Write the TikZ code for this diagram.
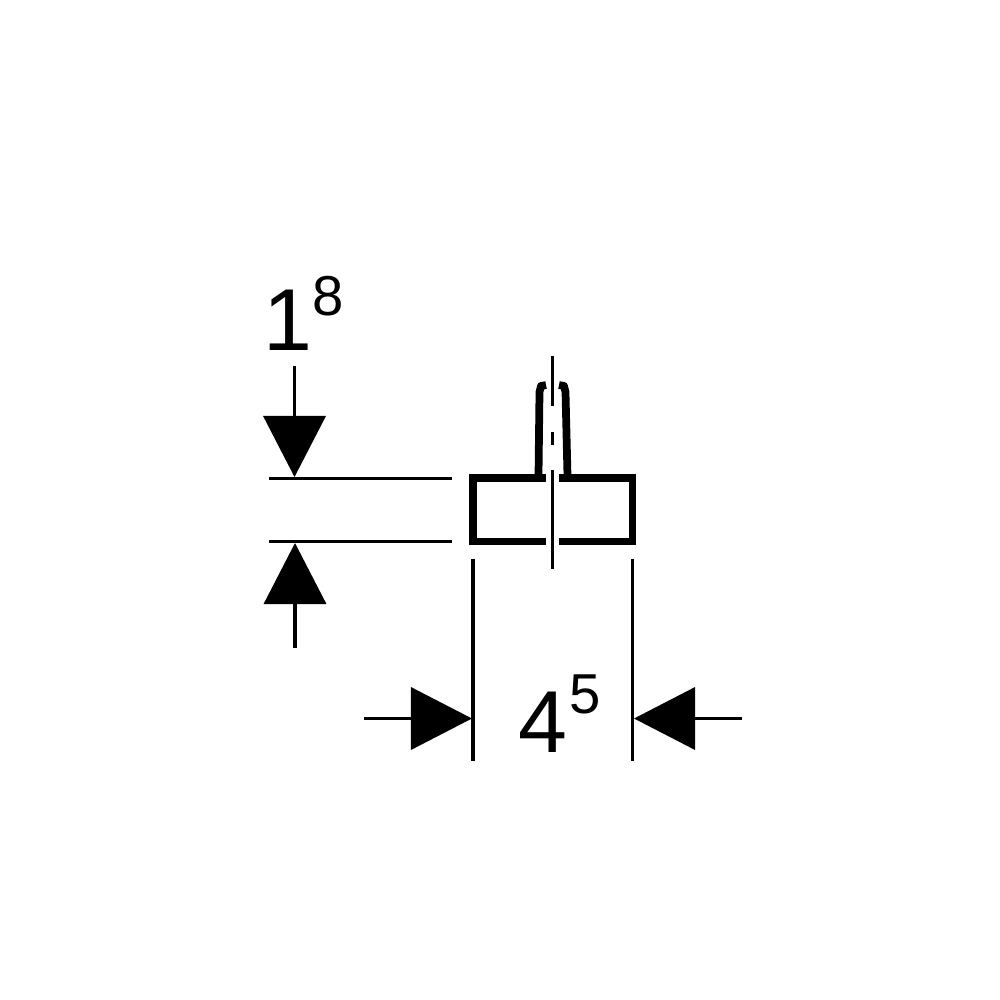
\documentclass[tikz,border=0pt]{standalone}
\usepackage{fontspec}
\setmainfont{Liberation Sans}
\usetikzlibrary{arrows.meta}
\tikzset{
  x=0.01cm,y=-0.01cm,
  profile/.style={line width=2pt,line join=miter,line cap=butt},
  stem/.style={line width=2.2pt,line join=round,line cap=butt},
  thinline/.style={line width=1pt},
  dimarrow/.style={line width=1pt,-{Triangle[length=0.61cm,width=0.62cm,sep=0pt]},shorten >=0pt},
  bigdigit/.style={inner sep=0pt,anchor=base west,font=\fontsize{25}{25}\selectfont},
  smalldigit/.style={inner sep=0pt,anchor=base west,font=\fontsize{16}{16}\selectfont}
}
\begin{document}
\begin{tikzpicture}
\useasboundingbox (0,0) rectangle (1000,1000);
% profile
\draw[profile] (546,478) -- (473,478) -- (473,541.5) -- (546,541.5);
\draw[profile] (559,478) -- (632.5,478) -- (632.5,541.5) -- (559,541.5);
\draw[stem] (538.5,476) -- (539.5,392) -- (541,386) -- (546,385);
\draw[stem] (567.5,476) -- (565.5,392) -- (564,386) -- (559,385);
% centre line
\draw[line width=1.1pt] (552.5,356) -- (552.5,406);
\draw[line width=1.1pt] (552.5,432) -- (552.5,445);
\draw[line width=1.1pt] (552.5,470) -- (552.5,569);
% extension lines
\draw[thinline] (269,478.5) -- (452,478.5);
\draw[thinline] (269,541.5) -- (452,541.5);
\draw[thinline] (473,559) -- (473,761);
\draw[thinline] (632.5,559) -- (632.5,761);
% dimension arrows
\coordinate (t1) at (294.5,366); \coordinate (t2) at (294.5,477);
\coordinate (b1) at (295,648);   \coordinate (b2) at (295,543);
\coordinate (l1) at (364,718.5); \coordinate (l2) at (472,718.5);
\coordinate (r1) at (742,718.5); \coordinate (r2) at (634,718.5);
\draw[dimarrow] (t1) -- (t2);
\draw[dimarrow] (b1) -- (b2);
\draw[dimarrow] (l1) -- (l2);
\draw[dimarrow] (r1) -- (r2);
% labels
\node[bigdigit] (h1) at (263,350) {1};
\node[smalldigit] (h2) at (312,315) {8};
\node[bigdigit] (w1) at (518,752) {4};
\node[smalldigit] (w2) at (569,713) {5};
\end{tikzpicture}
\end{document}
